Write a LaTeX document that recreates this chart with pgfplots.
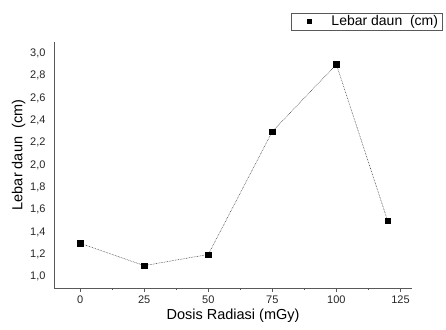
\documentclass[border=0pt]{standalone}
\usepackage{pgfplots}
\pgfplotsset{compat=1.18}
\usepackage{fontspec}
\setmainfont{Liberation Sans}
\begin{document}
\begin{tikzpicture}[x=1pt,y=1pt]
\useasboundingbox (0,0) rectangle (446,329);
\begin{axis}[
  at={(54pt,41pt)}, anchor=south west,
  scale only axis, width=358pt, height=246pt,
  xmin=-10.2, xmax=129.5, ymin=0.9, ymax=3.1,
  axis x line*=bottom, axis y line*=left,
  axis line style={gray!70!black, line width=0.8pt},
  xtick={0,25,50,75,100,125},
  minor xtick={12.5,37.5,62.5,87.5,112.5},
  ytick={1.0,1.2,...,3.01},
  yticklabel style={xshift=-1pt, /pgf/number format/fixed, /pgf/number format/fixed zerofill, /pgf/number format/precision=1, /pgf/number format/use comma},
  /pgf/number format/assume math mode=true,
  tick style={gray!70!black, line width=0.6pt},
  y tick style={draw=none},
  extra y ticks={1.1,1.3,1.5,1.7,1.9,2.1,2.3,2.5,2.7,2.9},
  extra y tick labels={},
  extra y tick style={major tick length=3pt, tick style={draw=gray!70!black}},
  tickpos=left,
  tick align=outside,
  major tick length=4pt,
  minor tick length=2pt,
  tick label style={font=\fontsize{11}{12}\selectfont, text=black!85},
  xlabel={Dosis Radiasi (mGy)},
  ylabel={Lebar daun\ \ (cm)},
  label style={font=\fontsize{14.5}{16}\selectfont},
  xlabel style={yshift=1pt},
  ylabel style={yshift=-9pt, xshift=10pt},
  legend style={at={(axis description cs:0.662,1.118)}, anchor=north west,
    draw=gray!70!black, line width=0.5pt, font=\fontsize{14}{15}\selectfont,
    inner xsep=2pt, inner ysep=0.5pt, legend cell align=left},
  legend image code/.code={\path[draw=none] (0,0) -- (1.0cm,0); \draw[only marks, mark=square*, mark size=2pt, black] plot coordinates {(0.55cm,0cm)};},
]
\addplot[black!80, line width=0.5pt, dash pattern=on 0.7pt off 0.9pt,
  mark=square*, mark size=2.7pt, mark options={solid, fill=black, draw=black}]
  coordinates {(0,1.3) (25,1.1) (50,1.2) (75,2.3) (100,2.9) (120,1.5)};
\addlegendentry{\ \ Lebar daun\ \ (cm)}
\end{axis}
\end{tikzpicture}
\end{document}
